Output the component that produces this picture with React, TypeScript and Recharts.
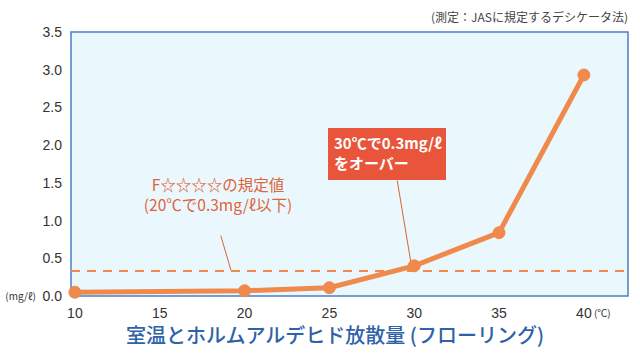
import React from 'react'
import { LineChart, Line, XAxis, YAxis, ReferenceLine, ReferenceArea } from 'recharts'

const temps = [10, 20, 25, 30, 35, 40]
const emission = [0.05, 0.07, 0.11, 0.4, 0.84, 2.93]
const xTicks = [10, 15, 20, 25, 30, 35, 40]
const yTicks = [0, 0.5, 1, 1.5, 2, 2.5, 3, 3.5]
const limitValue = 0.33
const limitPointer = [{ x: 18.6, y: 0.8 }, { x: 19.2, y: 0.34 }]
const overPointer = [{ x: 29.0, y: 1.53 }, { x: 29.8, y: 0.45 }]

const data = temps.map((t, i) => ({ temp: t, value: emission[i] }))

const ORANGE = '#f08a4c'
const FONT = '"Liberation Sans", Arial, sans-serif'
const JP = '"Noto Sans CJK JP", sans-serif'

const XTick = (props: any) => {
  const { x, y, payload } = props
  return (
    <g>
      <text x={x} y={y + 14} textAnchor="middle" fontSize={14} fontFamily={FONT} fill="#333">
        {payload.value}
      </text>
      {payload.value === 40 && (
        <text x={x + 10} y={y + 13} fontSize={10} fontFamily={JP} fill="#333">(℃)</text>
      )}
    </g>
  )
}

const YTick = (props: any) => {
  const { x, y, payload } = props
  return (
    <g>
      <text x={x - 1} y={y + 5} textAnchor="end" fontSize={14} fontFamily={FONT} fill="#333">
        {payload.value.toFixed(1)}
      </text>
      {payload.value === 0 && (
        <text x={x - 27} y={y + 4} textAnchor="end" fontSize={10} fontFamily={JP} fill="#333">(mg/ℓ)</text>
      )}
    </g>
  )
}

const noteStyle: React.CSSProperties = {
  position: 'absolute',
  left: 130,
  width: 176,
  textAlign: 'center',
  fontSize: 15.5,
  lineHeight: '18px',
  fontFamily: JP,
  color: '#e0643c',
}

export default function App() {
  return (
    <div style={{ position: 'absolute', left: 0, top: 0, width: 640, height: 358, background: '#fff' }}>
      <LineChart width={640} height={358} data={data} margin={{ top: 32, right: 12, bottom: 0, left: 0 }}>
        <ReferenceArea x1={9.77} x2={42.6} y1={0} y2={3.5} fill="#eaf8fd" fillOpacity={1} stroke="#4a80c4" strokeWidth={1.5} />
        <XAxis
          dataKey="temp"
          type="number"
          domain={[9.77, 42.6]}
          ticks={xTicks}
          tick={<XTick />}
          tickLine={false}
          axisLine={false}
          height={62}
        />
        <YAxis
          type="number"
          domain={[0, 3.5]}
          ticks={yTicks}
          tick={<YTick />}
          tickLine={false}
          axisLine={false}
          width={71}
        />
        <ReferenceLine y={limitValue} stroke={ORANGE} strokeWidth={2} strokeDasharray="9 7" />
        <ReferenceLine segment={limitPointer} stroke="#d9603a" strokeWidth={1} />
        <ReferenceLine segment={overPointer} stroke="#d9603a" strokeWidth={1} />
        <Line
          dataKey="value"
          stroke={ORANGE}
          strokeWidth={5}
          dot={{ r: 6, fill: ORANGE, stroke: ORANGE, strokeWidth: 1 }}
          isAnimationActive={false}
        />
      </LineChart>
      <div style={{ position: 'absolute', right: 12, top: 8, fontSize: 12, fontFamily: JP, color: '#444' }}>
        (測定：JASに規定するデシケータ法)
      </div>
      <div style={{ ...noteStyle, top: 175 }}>F☆☆☆☆の規定値</div>
      <div style={{ ...noteStyle, top: 195 }}>(20℃で0.3mg/ℓ以下)</div>
      <div style={{ position: 'absolute', left: 328, top: 128, width: 118, height: 52, background: '#e8553a', color: '#fff', fontSize: 15, fontWeight: 'bold', lineHeight: '20px', fontFamily: JP, padding: '5px 0 0 6px', boxSizing: 'border-box' }}>
        30℃で0.3mg/ℓ<br />をオーバー
      </div>
      <div style={{ position: 'absolute', left: 0, top: 320, width: 640, paddingLeft: 30, boxSizing: 'border-box', textAlign: 'center', fontSize: 20, fontWeight: 500, fontFamily: JP, color: '#2f62a8' }}>
        室温とホルムアルデヒド放散量 (フローリング)
      </div>
    </div>
  )
}
